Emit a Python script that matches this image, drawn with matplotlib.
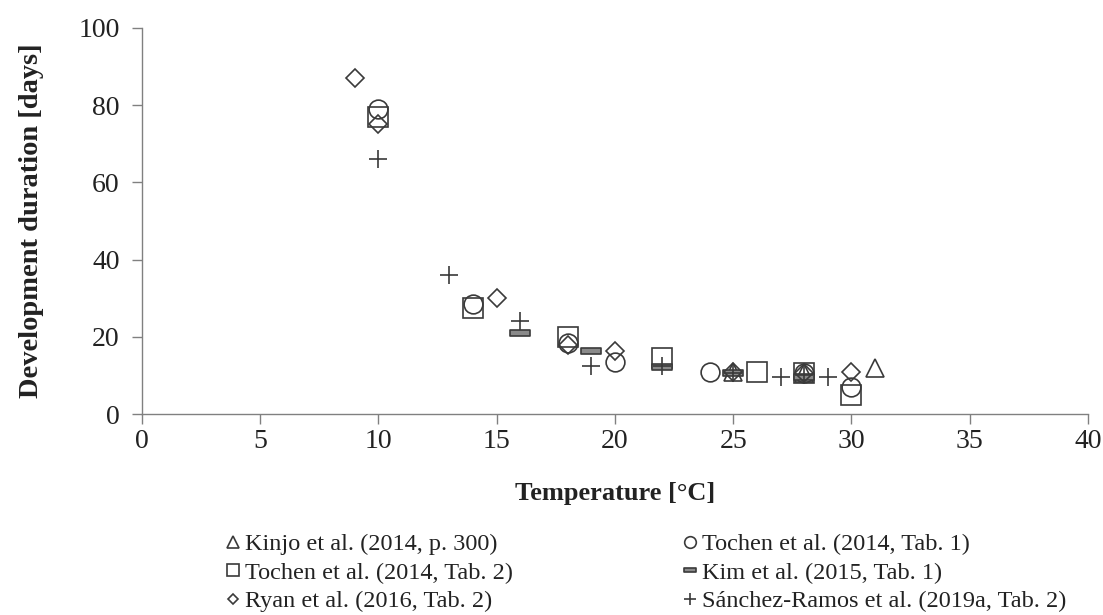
import numpy as np
import matplotlib
matplotlib.use('Agg')
from matplotlib import pyplot as plt
from matplotlib.path import Path

plt.rcParams['font.family'] = ['Liberation Serif', 'DejaVu Serif']

# data (temperature in degC, duration in days)
kinjo_t = [25, 28, 31]
kinjo_d = [11.0, 10.5, 12.0]
tochen1_t = [10, 14, 18, 20, 24, 28, 30]
tochen1_d = [79.0, 28.5, 18.5, 13.5, 11.0, 10.5, 7.0]
tochen2_t = [10, 14, 18, 22, 26, 28, 30]
tochen2_d = [77.0, 27.5, 20.0, 14.5, 11.0, 10.5, 5.0]
kim_t = [16, 19, 22, 25, 28]
kim_d = [21.0, 16.3, 12.3, 10.5, 9.5]
ryan_t = [9, 10, 15, 18, 20, 25, 28, 30]
ryan_d = [87.0, 75.0, 30.0, 18.0, 16.3, 11.0, 10.5, 11.0]
sanchez_t = [10, 13, 16, 19, 22, 25, 27, 28, 29]
sanchez_d = [66.0, 36.0, 24.0, 12.5, 12.5, 10.5, 9.5, 10.0, 9.5]

labels = ['Kinjo et al. (2014, p. 300)', 'Tochen et al. (2014, Tab. 1)',
          'Tochen et al. (2014, Tab. 2)', 'Kim et al. (2015, Tab. 1)',
          'Ryan et al. (2016, Tab. 2)', 'Sánchez-Ramos et al. (2019a, Tab. 2)']

ec = '#3a3a3a'
bar = Path([(-1, -0.28), (1, -0.28), (1, 0.28), (-1, 0.28), (-1, -0.28)],
           [Path.MOVETO, Path.LINETO, Path.LINETO, Path.LINETO, Path.CLOSEPOLY])

fig = plt.figure(figsize=(11.03, 6.15), dpi=100)
ax = fig.add_axes([0.1287, 0.3268, 0.8577, 0.6277])

h_kinjo, = ax.plot(kinjo_t, kinjo_d, ls='none', marker='^', ms=13, mfc='none', mec=ec, mew=1.2)
h_t1, = ax.plot(tochen1_t, tochen1_d, ls='none', marker='o', ms=13.5, mfc='none', mec=ec, mew=1.2)
h_t2, = ax.plot(tochen2_t, tochen2_d, ls='none', marker='s', ms=14.5, mfc='none', mec=ec, mew=1.2)
h_kim, = ax.plot(kim_t, kim_d, ls='none', marker=bar, ms=15, mfc='#8a8a8a', mec=ec, mew=1.2)
h_ryan, = ax.plot(ryan_t, ryan_d, ls='none', marker='D', ms=9, mfc='none', mec=ec, mew=1.2)
h_san, = ax.plot(sanchez_t, sanchez_d, ls='none', marker='+', ms=13, mec=ec, mew=1.2)

ax.set_xlim(0, 40)
ax.set_ylim(0, 100)
ax.set_xticks(np.arange(0, 41, 5))
ax.set_yticks(np.arange(0, 101, 20))
for s in ['top', 'right']:
    ax.spines[s].set_visible(False)
for s in ['left', 'bottom']:
    ax.spines[s].set_color('#808080')
    ax.spines[s].set_linewidth(1.0)
ax.tick_params(axis='both', direction='out', length=7, width=1.0, color='#808080',
               labelsize=20, labelcolor='#222222')
ax.tick_params(axis='y', pad=9)
ax.tick_params(axis='x', pad=4)

ax.set_xlabel('Temperature [°C]', fontsize=19, fontweight='bold', color='#222222', labelpad=20)
ax.set_ylabel('Development duration [days]', fontsize=20.5, fontweight='bold', color='#222222', labelpad=25)

handles = [h_kinjo, h_t2, h_ryan, h_t1, h_kim, h_san]
order = [labels[0], labels[2], labels[4], labels[1], labels[3], labels[5]]
fig.legend(handles, order, loc='upper left', bbox_to_anchor=(0.205, 0.133), ncol=2,
           frameon=False, fontsize=17.5, markerscale=0.62, handlelength=0.55,
           handletextpad=0.22, labelspacing=0.27, columnspacing=7.0, borderpad=0,
           borderaxespad=0, labelcolor='#222222')

fig.savefig('out.png', dpi=100)
